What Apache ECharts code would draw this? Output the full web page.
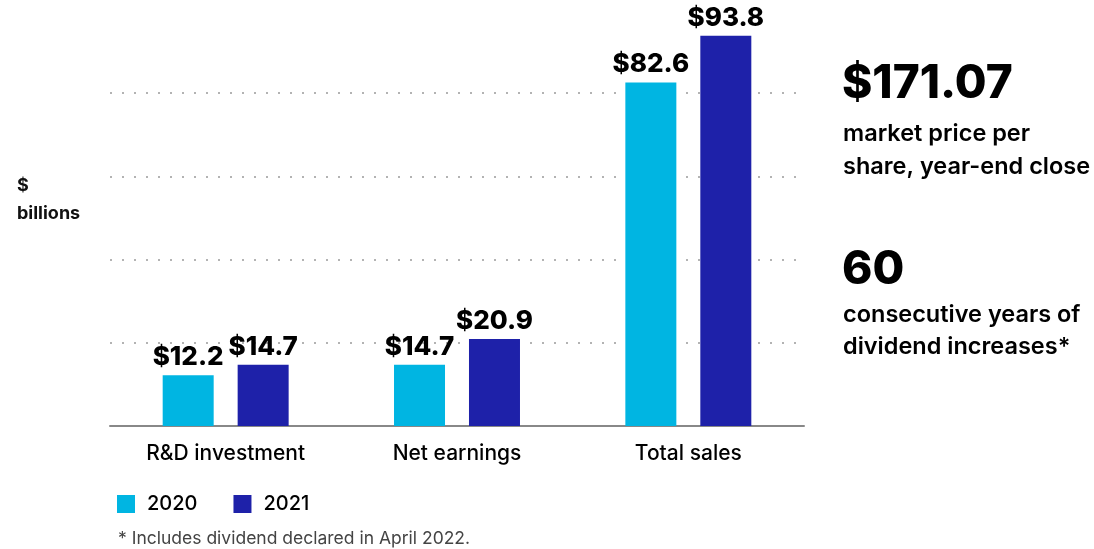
<!DOCTYPE html>
<html>
<head>
<meta charset="utf-8">
<script src="https://cdn.jsdelivr.net/npm/echarts@6/dist/echarts.min.js"></script>
<style>
html,body{margin:0;padding:0;background:#fff;}
#chart{width:1094px;height:549px;}
</style>
</head>
<body>
<div id="chart"></div>
<script>
const categories = ['R&D investment', 'Net earnings', 'Total sales'];
const seriesNames = ['2020', '2021'];
const values2020 = [12.2, 14.7, 82.6];
const values2021 = [14.7, 20.9, 93.8];
const yTicks = [0, 20, 40, 60, 80, 100];
const unitLines = ['$', 'billions'];
const statPrice = '$171.07';
const statPriceText = ['market price per', 'share, year-end close'];
const statYears = '60';
const statYearsText = ['consecutive years of', 'dividend increases*'];
const footnote = '* Includes dividend declared in April 2022.';

const FONT = 'Inter, "Noto Sans", sans-serif';
const colors = ['#00B5E2', '#1E21A9'];

const chart = echarts.init(document.getElementById('chart'), null, {renderer: 'canvas'});

const labelOpt = {
  show: true,
  position: 'top',
  distance: 5,
  formatter: p => '$' + p.value.toFixed(1),
  fontFamily: FONT,
  fontSize: 26,
  fontWeight: 800,
  color: '#000'
};

chart.setOption({
  animation: false,
  color: colors,
  textStyle: {fontFamily: FONT},
  grid: {left: 110, right: 290, top: 10, bottom: 123, containLabel: false},
  legend: {
    left: 112,
    top: 489,
    itemWidth: 18,
    itemHeight: 18,
    itemGap: 36,
    icon: 'rect',
    data: seriesNames,
    textStyle: {fontFamily: FONT, fontSize: 20, fontWeight: 500, color: '#000', padding: [0, 0, 0, 7]}
  },
  xAxis: {
    type: 'category',
    data: categories,
    axisLine: {lineStyle: {color: '#888', width: 2}},
    axisTick: {show: false},
    axisLabel: {fontFamily: FONT, fontSize: 21, fontWeight: 500, color: '#000', margin: 17}
  },
  yAxis: {
    type: 'value',
    min: yTicks[0],
    max: yTicks[yTicks.length - 1],
    interval: yTicks[1] - yTicks[0],
    axisLine: {show: false},
    axisTick: {show: false},
    axisLabel: {show: false},
    splitLine: {
      show: true,
      showMaxLine: false,
      showMinLine: false,
      lineStyle: {color: '#9a9a9a', width: 1.5, type: [2, 10]}
    }
  },
  series: [
    {name: seriesNames[0], type: 'bar', data: values2020, barWidth: 51, barGap: '47%', label: labelOpt},
    {name: seriesNames[1], type: 'bar', data: values2021, barWidth: 51, barGap: '47%', label: labelOpt}
  ],
  graphic: [
    {type: 'text', left: 17, top: 172, style: {text: unitLines.join('\n'), fontFamily: FONT, fontSize: 18, fontWeight: 700, lineHeight: 28, fill: '#111'}},
    {type: 'text', left: 842, top: 61, style: {text: statPrice, fontFamily: FONT, fontSize: 46, fontWeight: 800, fill: '#000', letterSpacing: -1}},
    {type: 'text', left: 843, top: 117, style: {text: statPriceText.join('\n'), fontFamily: FONT, fontSize: 23.5, fontWeight: 600, lineHeight: 33, fill: '#000'}},
    {type: 'text', left: 842, top: 247, style: {text: statYears, fontFamily: FONT, fontSize: 46, fontWeight: 800, fill: '#000'}},
    {type: 'text', left: 843, top: 299, style: {text: statYearsText.join('\n'), fontFamily: FONT, fontSize: 23.5, fontWeight: 600, lineHeight: 32, fill: '#000'}},
    {type: 'text', left: 118, top: 530, style: {text: footnote, fontFamily: FONT, fontSize: 17.5, fontWeight: 400, fill: '#444'}}
  ]
});
</script>
</body>
</html>
